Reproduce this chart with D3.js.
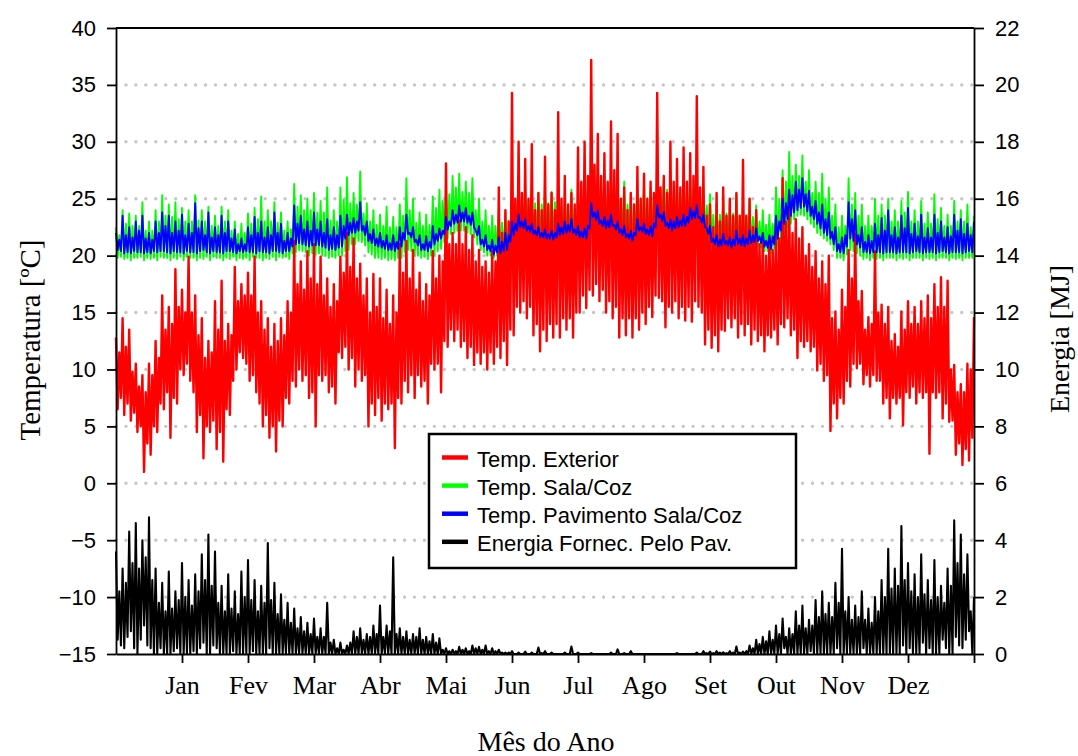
<!DOCTYPE html>
<html><head><meta charset="utf-8">
<script src="https://cdn.jsdelivr.net/npm/d3@7"></script>
<style>
html,body{margin:0;padding:0;background:#fff;}
svg{display:block;}
</style></head><body>
<svg id="chart" width="1078" height="756"></svg>
<script>
// ---------- data ----------
const monthLabels = ["Jan","Fev","Mar","Abr","Mai","Jun","Jul","Ago","Set","Out","Nov","Dez",""];
const monthTicks = [1,2,3,4,5,6,7,8,9,10,11,12,13];
const tempTicks = [-15,-10,-5,0,5,10,15,20,25,30,35,40];
const energyTicks = [0,2,4,6,8,10,12,14,16,18,20,22];
const gridTemps = [-10,-5,0,5,10,15,20,25,30,35];
const sampleStep = 0.05;   // months between successive peak samples

const seriesNames = ["Temp. Exterior","Temp. Sala/Coz","Temp. Pavimento Sala/Coz","Energia Fornec. Pelo Pav."];

// Temp. Exterior (°C): successive peaks and troughs
const extHigh = [
12.8,11.5,14.5,12.0,13.5,9.8,10.5,8.5,9.5,8.0,10.5,9.5,12.5,11.0,16.5,13.5,15.5,14.0,18.8,15.5,
17.0,15.0,19.9,15.0,16.5,13.0,14.5,11.0,12.5,11.5,16.0,13.5,17.8,12.5,14.0,13.0,19.0,16.0,17.5,16.5,
18.5,16.5,19.9,15.0,16.0,13.5,14.5,12.0,14.0,12.5,14.5,13.0,16.0,15.0,21.3,17.5,19.5,17.0,20.4,18.0,
21.0,17.5,19.9,16.5,18.0,15.5,17.5,16.0,19.9,18.5,22.0,19.0,21.5,18.0,19.3,16.5,18.0,15.0,18.4,15.5,
18.0,14.5,17.0,14.0,16.5,15.0,21.0,18.5,21.3,18.0,20.5,17.0,18.5,16.0,17.5,16.5,20.4,18.0,20.0,19.5,
28.1,21.0,22.0,21.0,23.1,21.0,22.5,20.5,21.8,19.5,20.5,19.0,19.5,18.5,20.4,19.5,26.0,22.0,24.0,23.0,
34.3,25.0,30.0,25.5,28.5,25.0,29.8,24.0,25.5,24.0,28.7,24.5,25.5,24.0,32.6,25.0,27.0,24.5,25.5,24.5,
29.5,26.5,30.0,27.0,37.2,28.0,30.7,27.0,29.0,26.5,31.8,27.5,30.7,25.0,26.0,24.0,25.5,24.5,27.8,25.0,
27.2,25.0,26.5,25.5,34.3,26.0,27.0,25.5,30.0,26.5,28.5,26.0,29.5,26.5,29.0,27.0,34.0,26.0,27.8,23.5,
24.5,22.5,25.5,23.0,26.0,23.5,25.0,23.5,25.5,23.5,28.4,23.5,25.0,22.5,24.0,21.0,21.6,20.0,21.6,20.5,
22.2,21.5,26.8,23.0,24.3,22.0,23.2,21.5,22.5,20.0,21.0,19.0,20.4,18.0,19.5,17.5,20.0,14.5,15.1,13.5,
17.0,15.5,20.5,18.0,21.9,16.0,16.9,13.5,14.6,14.0,20.4,15.0,15.7,14.0,15.5,12.5,13.1,12.0,15.1,13.5,
16.0,14.0,15.5,14.0,16.0,14.5,16.5,14.5,17.5,15.5,18.1,15.5,17.8,10.0,10.4,8.0,8.7,8.0,10.5,10.0,
14.6];
const extLow = [
6.5,7.5,6.0,7.0,5.5,6.2,4.5,5.0,1.0,3.5,2.5,5.0,4.5,7.0,6.5,8.0,4.0,7.5,7.0,10.0,
9.5,10.5,9.0,8.0,4.5,6.0,2.2,5.0,4.5,5.5,3.0,4.5,1.9,6.5,6.0,9.0,10.0,11.5,11.0,10.5,
9.0,9.5,8.0,7.0,5.0,6.0,4.0,5.0,2.8,5.5,5.0,7.5,7.0,9.0,8.5,10.0,9.0,9.5,7.5,8.0,
5.0,9.5,9.0,9.5,8.0,8.5,7.0,11.5,11.0,12.0,10.0,11.0,8.5,10.0,9.0,9.5,5.0,7.0,6.0,7.5,
5.5,7.0,6.5,7.0,3.1,7.5,7.0,9.0,8.0,9.5,7.5,9.5,8.5,9.0,7.0,10.5,10.0,10.5,8.0,12.5,
12.0,13.5,12.5,13.5,12.0,12.5,11.0,12.0,10.4,11.5,10.5,11.5,10.0,11.5,10.5,12.0,11.0,12.5,10.4,13.5,
13.0,15.5,15.0,16.0,14.5,15.5,13.0,14.0,11.6,13.5,12.5,14.0,12.8,14.0,12.8,14.5,13.5,14.5,12.8,15.0,
15.0,16.5,15.4,17.0,16.5,17.5,16.0,17.0,15.0,16.0,14.5,15.5,12.8,14.5,13.0,14.5,12.8,14.5,13.5,15.0,
14.0,15.5,14.6,16.5,16.3,16.0,13.7,15.5,15.0,16.0,14.5,15.5,14.3,15.5,14.2,16.0,15.5,15.0,12.2,13.5,
11.9,13.0,11.6,13.5,13.4,14.5,13.7,14.5,12.8,14.0,13.0,14.0,12.2,13.5,12.5,13.0,11.6,13.0,12.8,13.5,
12.2,14.0,13.7,14.5,13.0,13.5,11.0,12.5,12.0,12.5,11.6,12.0,9.9,10.5,9.0,9.5,4.6,7.0,5.7,7.5,
7.0,9.0,8.5,10.5,10.1,10.5,8.7,9.5,8.5,9.5,9.0,9.0,7.0,7.5,5.7,7.5,7.0,7.5,5.1,8.0,
7.5,8.5,7.0,8.0,7.5,8.0,2.6,8.0,7.5,8.0,5.7,7.0,5.4,5.5,2.5,3.5,1.6,3.0,2.0,4.0];

// Temp. Sala/Coz (°C): successive peaks and troughs
const salaHigh = [
22.5,21.8,24.0,22.8,23.7,22.6,23.5,22.6,24.7,22.2,23.0,22.2,24.0,23.0,25.3,23.5,24.5,23.4,24.7,23.2,
24.2,23.0,24.0,23.0,25.3,23.1,24.0,23.0,24.3,22.6,23.5,22.6,24.3,23.0,24.0,22.2,23.0,21.9,22.8,22.0,
23.7,22.8,24.2,23.2,25.2,23.0,24.0,23.0,24.7,22.9,23.8,22.2,23.0,22.3,26.3,24.3,25.3,24.0,25.0,24.0,
25.5,23.8,24.8,23.8,26.0,23.1,24.0,23.0,26.0,24.9,26.9,24.6,25.5,24.5,27.4,23.7,24.6,23.0,24.0,22.7,
23.6,22.6,24.3,22.5,23.4,22.5,24.5,23.5,26.8,24.0,25.0,22.9,23.8,22.6,23.6,22.7,25.2,24.2,25.8,24.8,
26.4,25.4,27.0,26.0,27.2,25.6,26.5,25.5,26.8,24.0,25.0,23.0,24.0,22.6,23.5,22.6,24.0,22.9,23.8,22.9,
25.5,24.5,26.3,25.0,26.0,24.8,25.7,24.6,25.5,24.5,26.3,24.6,25.6,24.7,26.0,24.3,25.2,24.3,25.8,24.1,
25.0,24.1,26.0,25.0,28.4,26.0,27.0,25.3,26.3,25.3,26.8,25.0,26.0,25.0,26.5,24.5,25.4,24.5,26.0,25.0,
26.4,25.0,26.0,25.0,27.2,25.8,26.8,25.8,26.9,25.4,26.4,25.4,27.0,25.6,26.6,25.6,27.2,25.0,26.0,24.4,
25.4,23.6,24.6,23.6,25.0,23.7,24.7,23.7,25.4,23.5,24.5,23.5,25.0,23.4,24.4,23.0,24.0,22.7,23.6,22.8,
26.0,25.0,27.5,26.5,29.1,27.0,28.0,27.0,28.8,26.5,27.5,25.5,26.5,25.5,27.2,25.0,26.0,23.5,24.5,22.5,
23.5,22.6,26.8,24.5,25.5,23.5,24.5,22.6,23.5,22.6,25.0,23.5,24.5,23.5,25.0,23.0,24.0,23.0,24.8,23.8,
25.6,23.0,24.0,23.0,24.8,22.8,23.8,22.8,25.4,23.2,24.2,22.6,23.6,22.6,24.8,23.0,24.0,23.0,24.5,22.5,
23.5];
const salaLow = [
19.8,19.9,19.7,19.8,19.6,19.8,19.8,19.9,19.6,19.8,19.7,19.8,19.6,19.9,19.8,19.8,19.6,19.8,19.7,19.9,
19.6,19.9,19.8,19.8,19.6,19.8,19.7,19.9,19.6,19.9,19.8,19.8,19.6,19.8,19.7,19.9,19.6,19.8,19.7,19.8,
19.6,19.9,19.8,19.8,19.6,19.8,19.7,19.9,19.6,19.9,19.8,19.9,19.7,20.2,20.3,20.5,20.4,20.3,20.0,20.2,
20.1,20.2,20.0,20.0,19.8,19.9,19.8,20.0,20.0,20.4,20.5,21.0,21.0,21.3,21.2,20.9,20.3,20.1,19.8,19.8,
19.7,19.8,19.6,19.7,19.6,19.8,19.8,20.3,20.5,20.4,20.0,20.0,19.8,19.9,19.7,20.0,20.0,20.4,20.6,21.2,
21.5,21.9,22.0,22.2,22.2,22.2,22.0,21.9,21.6,21.0,20.5,20.3,20.0,20.0,19.8,20.0,19.9,20.1,20.0,20.6,
21.0,21.5,21.8,21.8,21.6,21.5,21.2,21.2,21.0,21.1,21.0,21.1,21.0,21.2,21.2,21.4,21.4,21.5,21.4,21.3,
21.0,21.1,21.0,21.8,22.5,22.3,22.0,22.0,21.8,22.0,22.0,21.8,21.5,21.3,21.0,21.0,20.8,21.3,21.6,21.6,
21.4,21.4,21.2,22.0,22.8,22.5,22.0,21.9,21.6,21.8,21.8,22.0,22.0,22.4,22.6,22.7,22.6,22.4,22.0,21.5,
20.8,20.6,20.3,20.5,20.5,20.5,20.2,20.4,20.5,20.5,20.3,20.5,20.6,20.8,20.8,20.7,20.4,20.4,20.2,20.6,
20.8,21.5,22.0,22.5,22.8,23.2,23.5,23.6,23.5,23.2,22.8,22.5,22.0,21.8,21.5,21.3,21.0,20.5,19.8,19.8,
19.6,20.1,20.5,20.4,20.2,20.0,19.7,19.8,19.6,19.8,19.7,19.8,19.6,19.8,19.8,19.8,19.6,19.8,19.7,19.8,
19.6,19.8,19.8,19.8,19.6,19.8,19.7,19.8,19.6,19.8,19.8,19.8,19.6,19.8,19.7,19.8,19.6,19.8,19.8,19.8];

// Temp. Pavimento Sala/Coz (°C): successive peaks and troughs
const pavHigh = [
22.0,21.4,23.5,21.8,22.5,21.6,23.0,22.2,23.5,21.5,22.0,21.4,23.0,22.0,23.8,22.6,23.5,22.0,23.0,22.2,
23.6,21.8,22.8,22.0,24.6,22.4,23.0,21.8,23.8,21.6,22.5,21.8,23.5,22.0,23.0,21.5,22.3,21.0,21.5,21.0,
22.5,21.8,23.4,22.0,23.0,21.6,22.5,21.8,23.8,22.0,22.8,21.3,22.0,21.5,24.4,22.8,23.5,22.3,23.0,22.2,
23.8,22.3,23.0,22.0,23.2,21.8,22.5,21.8,23.5,22.6,23.6,22.9,23.3,23.0,24.7,22.6,23.0,21.9,22.3,21.5,
22.0,21.3,21.8,21.1,21.8,21.2,22.5,22.0,23.6,22.0,22.5,21.4,21.8,21.0,21.7,21.2,22.6,21.9,22.4,22.2,
23.4,23.0,24.0,23.6,24.4,23.8,24.2,23.5,23.8,22.2,22.6,21.4,21.8,20.9,21.4,20.9,21.6,21.2,22.0,21.8,
23.0,22.8,23.6,23.0,23.2,22.6,22.8,22.2,22.5,22.0,22.3,21.9,22.2,22.0,22.8,22.5,23.0,22.7,23.2,22.3,
22.6,22.1,22.4,22.6,24.6,23.8,24.0,23.1,23.4,23.1,23.6,22.7,23.0,22.3,22.6,21.9,22.2,22.0,23.2,22.5,
22.8,22.3,22.6,22.8,24.4,23.6,23.8,22.9,23.2,23.0,23.4,23.1,23.6,23.4,24.2,23.9,24.4,23.4,23.6,22.4,
22.6,21.5,21.8,21.4,21.9,21.3,21.6,21.4,22.2,21.5,21.8,21.5,22.2,21.8,22.4,21.7,22.0,21.3,21.8,21.7,
23.5,23.0,25.0,24.6,25.8,25.3,26.5,25.8,26.8,25.4,25.7,24.3,24.8,23.8,24.5,23.2,23.8,22.1,22.5,21.0,
21.6,21.8,24.7,23.2,24.0,21.8,22.5,21.2,21.8,21.3,22.8,21.8,23.3,22.2,24.0,21.8,22.5,21.6,23.5,22.4,
24.2,21.9,22.8,21.7,23.6,21.6,22.4,21.6,23.6,22.0,23.0,21.6,22.5,21.7,23.6,22.2,23.2,21.9,22.8,21.8,
23.0];
const pavLow = [
20.5,20.4,20.2,20.3,20.2,20.4,20.3,20.3,20.2,20.3,20.2,20.4,20.3,20.4,20.4,20.3,20.2,20.4,20.3,20.3,
20.2,20.4,20.3,20.3,20.2,20.4,20.5,20.3,20.2,20.4,20.3,20.3,20.2,20.4,20.4,20.3,20.2,20.4,20.3,20.4,
20.3,20.3,20.2,20.4,20.3,20.3,20.2,20.4,20.4,20.3,20.2,20.4,20.4,20.8,21.0,21.1,21.0,20.9,20.8,20.9,
20.9,20.9,20.8,20.7,20.5,20.6,20.5,20.7,20.8,21.5,21.8,22.0,22.0,22.2,22.2,21.8,21.3,21.1,20.9,20.8,
20.7,20.6,20.5,20.5,20.4,20.6,20.8,21.4,21.9,21.6,21.2,20.9,20.5,20.5,20.4,20.7,21.0,21.3,21.5,21.9,
22.3,22.6,22.8,22.9,23.0,23.0,22.9,22.7,22.5,21.8,21.0,20.8,20.5,20.4,20.1,20.3,20.2,20.4,20.5,21.2,
21.8,22.2,22.5,22.4,22.2,22.1,21.9,21.8,21.6,21.6,21.5,21.5,21.4,21.6,21.8,21.9,22.0,22.1,22.0,21.8,
21.6,21.6,21.5,22.4,23.4,23.1,22.8,22.6,22.4,22.5,22.6,22.3,22.0,21.8,21.6,21.5,21.3,21.8,22.2,22.1,
21.9,21.8,21.7,22.5,23.4,23.0,22.6,22.4,22.2,22.4,22.5,22.6,22.6,22.9,23.2,23.3,23.3,22.9,22.5,21.9,
21.2,21.0,20.8,20.9,21.0,20.9,20.7,20.9,21.0,20.9,20.8,21.0,21.1,21.2,21.3,21.1,20.8,20.7,20.6,21.0,
21.5,22.2,22.8,23.2,23.5,23.8,24.0,24.2,24.3,23.9,23.5,23.2,22.8,22.4,22.0,21.8,21.5,21.0,20.4,20.3,
20.2,20.8,21.5,21.3,21.0,20.7,20.3,20.3,20.2,20.3,20.3,20.3,20.2,20.3,20.3,20.3,20.2,20.3,20.3,20.3,
20.2,20.3,20.4,20.3,20.2,20.3,20.3,20.3,20.2,20.3,20.4,20.3,20.2,20.3,20.3,20.3,20.2,20.3,20.4,20.3];

// Energia Fornec. Pelo Pav. (MJ): successive peaks and troughs
const energyHigh = [
3.6,2.2,3.0,2.5,4.3,3.2,4.6,3.0,4.0,3.4,4.8,2.6,3.0,1.8,2.5,1.5,2.9,1.6,2.2,1.9,
3.2,2.0,2.6,1.7,2.8,2.2,3.5,2.6,4.2,2.4,3.6,1.8,2.4,1.5,2.8,1.6,2.2,1.4,2.9,2.0,
3.3,1.9,2.6,1.5,2.4,1.8,3.9,1.9,2.5,1.4,2.1,1.2,1.8,1.1,1.6,0.9,1.3,0.8,1.1,0.7,
1.25,0.6,0.9,0.6,1.8,0.4,0.5,0.2,0.4,0.15,0.3,0.4,0.8,0.6,0.9,0.5,0.7,0.6,1.0,0.7,
1.7,0.6,1.0,0.8,3.4,0.7,0.9,0.6,0.8,0.5,0.7,0.6,0.9,0.5,0.6,0.45,0.7,0.4,0.55,0.15,
0.2,0.1,0.15,0.1,0.25,0.15,0.2,0.1,0.3,0.2,0.25,0.15,0.3,0.1,0.2,0.1,0.15,0.05,0.05,0.05,
0.1,0,0.05,0,0.08,0,0.05,0,0.23,0.03,0.1,0,0.05,0,0,0,0.05,0,0.26,0,
0.05,0,0,0,0.03,0,0,0,0,0,0.05,0,0.16,0,0.03,0,0.1,0,0,0,
0,0,0,0,0,0,0,0,0,0,0.03,0,0,0,0,0,0.05,0,0.1,0.03,
0.08,0.03,0.1,0.05,0.06,0.03,0.1,0.05,0.26,0.05,0.08,0.1,0.3,0.2,0.5,0.35,0.6,0.45,0.8,0.5,
1.0,0.7,1.25,0.6,0.9,0.7,1.5,1.0,1.7,0.9,1.2,1.0,1.9,1.3,2.2,1.4,1.8,1.3,2.5,1.8,
3.7,1.5,2.0,1.2,1.7,1.3,2.2,1.2,1.6,1.1,2.0,1.5,2.6,2.0,3.7,2.3,3.0,2.4,4.5,2.6,
3.2,2.2,2.8,2.0,3.5,2.1,2.6,1.9,3.3,2.0,2.4,1.8,3.0,2.4,4.7,3.2,4.2,2.8,3.5,1.5,
2.0];
const energyLow = [
0.5,0.3,0.2,0.6,0.8,0.2,0,0.5,1.0,0.3,0.2,0,0,0.2,0,0,0,0.1,0.2,0,
0,0,0,0.1,0,0.2,0.4,0,0,0.3,0.2,0,0,0,0,0.1,0,0,0,0,
0,0.1,0,0,0,0,0.2,0,0,0,0,0,0,0,0,0,0,0,0,0,
0,0,0,0,0,0,0,0,0,0,0,0,0,0,0,0,0,0,0,0,
0,0,0,0,0,0,0,0,0,0,0,0,0,0,0,0,0,0,0,0,
0,0,0,0,0,0,0,0,0,0,0,0,0,0,0,0,0,0,0,0,
0,0,0,0,0,0,0,0,0,0,0,0,0,0,0,0,0,0,0,0,
0,0,0,0,0,0,0,0,0,0,0,0,0,0,0,0,0,0,0,0,
0,0,0,0,0,0,0,0,0,0,0,0,0,0,0,0,0,0,0,0,
0,0,0,0,0,0,0,0,0,0,0,0,0,0,0,0,0,0,0,0,
0,0,0.2,0,0,0,0,0,0,0,0.1,0,0,0,0,0,0,0,0.2,0,
0,0,0,0,0,0,0.2,0,0,0,0,0,0,0,0,0,0,0,0.3,0,
0.2,0,0,0,0.4,0,0.2,0,0,0,0.5,0.2,0,0,0.6,0.3,0.2,0.5,0.8,0];

const seriesColors = ["#ff0000","#00ff00","#0000ff","#000000"];

// ---------- layout ----------
const svg = d3.select("#chart");
const plot = {left:116, right:974, top:28, bottom:654};
const x = d3.scaleLinear().domain([0,13]).range([plot.left, plot.right]);
const yT = d3.scaleLinear().domain([-15,40]).range([plot.bottom, plot.top]);
const yE = d3.scaleLinear().domain([0,22]).range([plot.bottom, plot.top]);

svg.append("rect").attr("width",1078).attr("height",756).attr("fill","#fff");

// dotted grid
svg.append("g").selectAll("line").data(gridTemps).join("line")
  .attr("x1", plot.left).attr("x2", plot.right)
  .attr("y1", d => yT(d)).attr("y2", d => yT(d))
  .attr("stroke", "#c6c6c6").attr("stroke-width", 3.4)
  .attr("stroke-linecap", "round").attr("stroke-dasharray", "0 9.95");

function zigzag(high, low) {
  const pts = [];
  high.forEach((h, k) => {
    pts.push([k * sampleStep, h]);
    if (k < low.length) pts.push([k * sampleStep + sampleStep / 2, low[k]]);
  });
  return pts;
}

const dataG = svg.append("g");
function drawLine(high, low, yScale, color, width) {
  const line = d3.line().x(d => x(d[0])).y(d => yScale(d[1]));
  dataG.append("path").datum(zigzag(high, low)).attr("d", line)
    .attr("fill", "none").attr("stroke", color).attr("stroke-width", width)
    .attr("stroke-linejoin", "round");
}
drawLine(salaHigh, salaLow, yT, seriesColors[1], 1.9);
drawLine(extHigh, extLow, yT, seriesColors[0], 2.4);
drawLine(pavHigh, pavLow, yT, seriesColors[2], 1.9);
drawLine(energyHigh, energyLow, yE, seriesColors[3], 2.1);

// ---------- axes ----------
const sansFont = "'Liberation Sans', Arial, sans-serif";
const serifFont = "'Liberation Serif', 'Times New Roman', serif";

function styleAxis(g, font, size) {
  g.selectAll("path.domain").attr("stroke", "#000").attr("stroke-width", 1.8);
  g.selectAll(".tick line").attr("stroke", "#000").attr("stroke-width", 1.8);
  g.selectAll("text").attr("fill", "#000").style("font-family", font).style("font-size", size + "px");
}

const gL = svg.append("g").attr("transform", `translate(${plot.left},0)`)
  .call(d3.axisLeft(yT).tickValues(tempTicks).tickSize(9).tickSizeOuter(0).tickPadding(11));
styleAxis(gL, sansFont, 22);

const gR = svg.append("g").attr("transform", `translate(${plot.right},0)`)
  .call(d3.axisRight(yE).tickValues(energyTicks).tickSize(10).tickSizeOuter(0).tickPadding(11));
styleAxis(gR, sansFont, 22);

const gB = svg.append("g").attr("transform", `translate(0,${plot.bottom})`)
  .call(d3.axisBottom(x).tickValues(monthTicks).tickFormat((d, i) => monthLabels[i])
    .tickSize(9).tickSizeOuter(0).tickPadding(13));
styleAxis(gB, serifFont, 26);

// top frame line
svg.append("line").attr("x1", plot.left).attr("x2", plot.right)
  .attr("y1", plot.top).attr("y2", plot.top)
  .attr("stroke", "#000").attr("stroke-width", 1.8);

// axis titles
svg.append("text").attr("transform", "translate(40,340) rotate(-90)")
  .attr("text-anchor", "middle").style("font-family", serifFont).style("font-size", "29px")
  .text("Temperatura [ºC]");
svg.append("text").attr("transform", "translate(1069,339) rotate(-90)")
  .attr("text-anchor", "middle").style("font-family", serifFont).style("font-size", "28px")
  .text("Energia [MJ]");
svg.append("text").attr("x", 546).attr("y", 751)
  .attr("text-anchor", "middle").style("font-family", serifFont).style("font-size", "28px")
  .text("Mês do Ano");

// ---------- legend ----------
const leg = svg.append("g");
leg.append("rect").attr("x", 429).attr("y", 434).attr("width", 367).attr("height", 134)
  .attr("fill", "#fff").attr("stroke", "#000").attr("stroke-width", 2.5);
const rows = leg.selectAll("g.row").data(seriesNames).join("g").attr("class", "row")
  .attr("transform", (d, i) => `translate(0,${457.5 + i * 28.1})`);
rows.append("line").attr("x1", 442).attr("x2", 468).attr("y1", 0).attr("y2", 0)
  .attr("stroke", (d, i) => seriesColors[i]).attr("stroke-width", 4.5);
rows.append("text").attr("x", 477).attr("y", 9.2)
  .style("font-family", sansFont).style("font-size", "22px").text(d => d);
</script>
</body></html>
